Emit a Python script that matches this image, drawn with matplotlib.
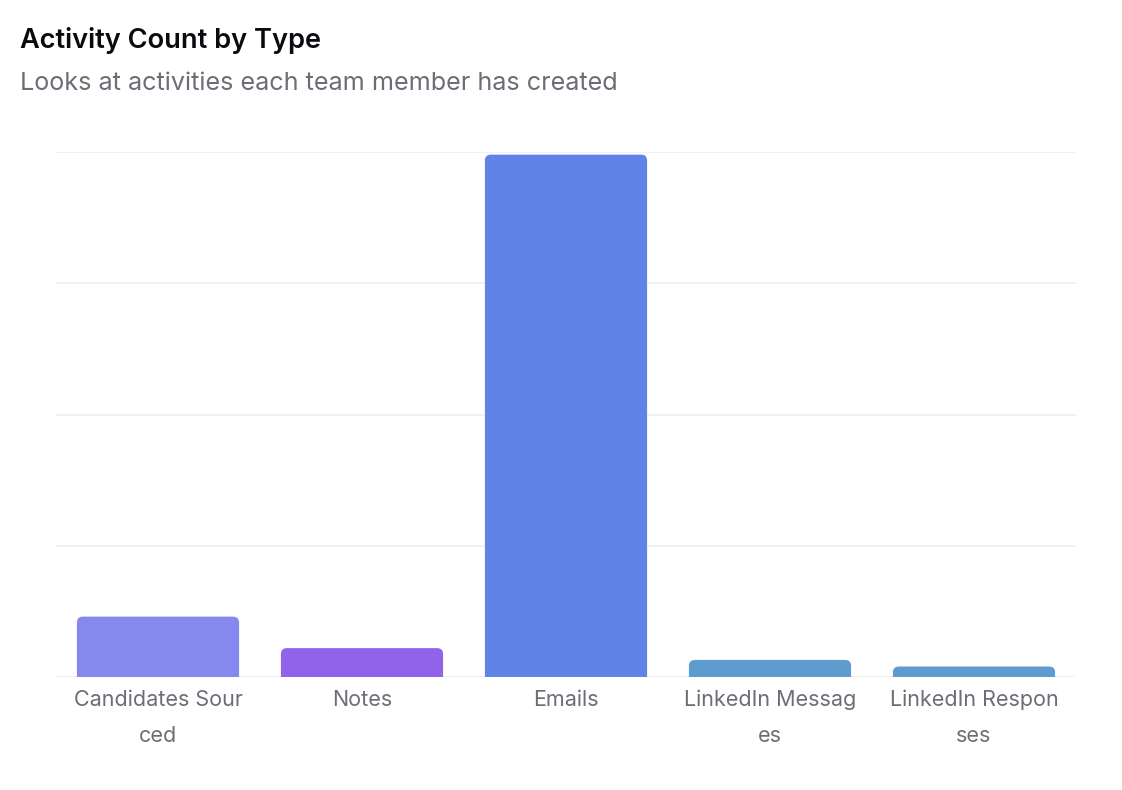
import matplotlib
matplotlib.use("Agg")
import matplotlib.pyplot as plt
from matplotlib.path import Path
from matplotlib.patches import PathPatch
import numpy as np

categories = ["Candidates Sourced", "Notes", "Emails", "LinkedIn Messages", "LinkedIn Responses"]
tick_labels = ["Candidates Sour\nced", "Notes", "Emails", "LinkedIn Messag\nes", "LinkedIn Respon\nses"]
values = [46, 22, 398, 13, 8]
colors = ["#8589EE", "#9063E8", "#6083E8", "#5E9BCF", "#5E9BCF"]
grid_ticks = [0, 100, 200, 300, 400]

plt.rcParams['font.family'] = ['Inter', 'DejaVu Sans']

W, H = 1122, 790
fig = plt.figure(figsize=(W / 100, H / 100), dpi=100)
left, right, top, bottom = 56, 1076, 152, 677
ax = fig.add_axes([left / W, 1 - bottom / H, (right - left) / W, (bottom - top) / H])
ax.set_xlim(-0.5, len(categories) - 0.5)
ax.set_ylim(0, 400)

for s in ax.spines.values():
    s.set_visible(False)
ax.set_yticks(grid_ticks)
ax.set_yticklabels([])
ax.tick_params(axis='y', length=0)
ax.yaxis.grid(True, color="#EEEFF1", linewidth=1.2)
ax.set_axisbelow(True)

x = np.arange(len(categories))
bars = ax.bar(x, values, width=0.795, color=colors, alpha=0.0)

# rounded top corners
px_per_x = (right - left) / len(categories)
px_per_y = (bottom - top) / 400.0
r_px = 6
for b, c in zip(bars, colors):
    x0 = b.get_x(); w = b.get_width(); h = b.get_height()
    rx = r_px / px_per_x
    ry = min(r_px / px_per_y, h)
    x1 = x0 + w
    verts = [(x0, 0), (x0, h - ry), (x0, h), (x0 + rx, h), (x1 - rx, h), (x1, h), (x1, h - ry), (x1, 0), (x0, 0)]
    codes = [Path.MOVETO, Path.LINETO, Path.CURVE3, Path.CURVE3, Path.LINETO, Path.CURVE3, Path.CURVE3, Path.LINETO, Path.CLOSEPOLY]
    ax.add_patch(PathPatch(Path(verts, codes), facecolor=c, edgecolor='none', zorder=3))

ax.set_xticks(x)
ax.set_xticklabels(tick_labels, fontsize=15.5, color="#6B6E76", linespacing=2.0, va='top')
ax.tick_params(axis='x', length=0, pad=9)

fig.text(20 / W, 1 - 41 / H, "Activity Count by Type", fontsize=19.6, fontweight='semibold',
         color="#0B0B0F", va='center', ha='left')
fig.text(20 / W, 1 - 84 / H, "Looks at activities each team member has created", fontsize=18.1,
         color="#6B6E76", va='center', ha='left')

fig.savefig("out.png", dpi=100, facecolor='white')
